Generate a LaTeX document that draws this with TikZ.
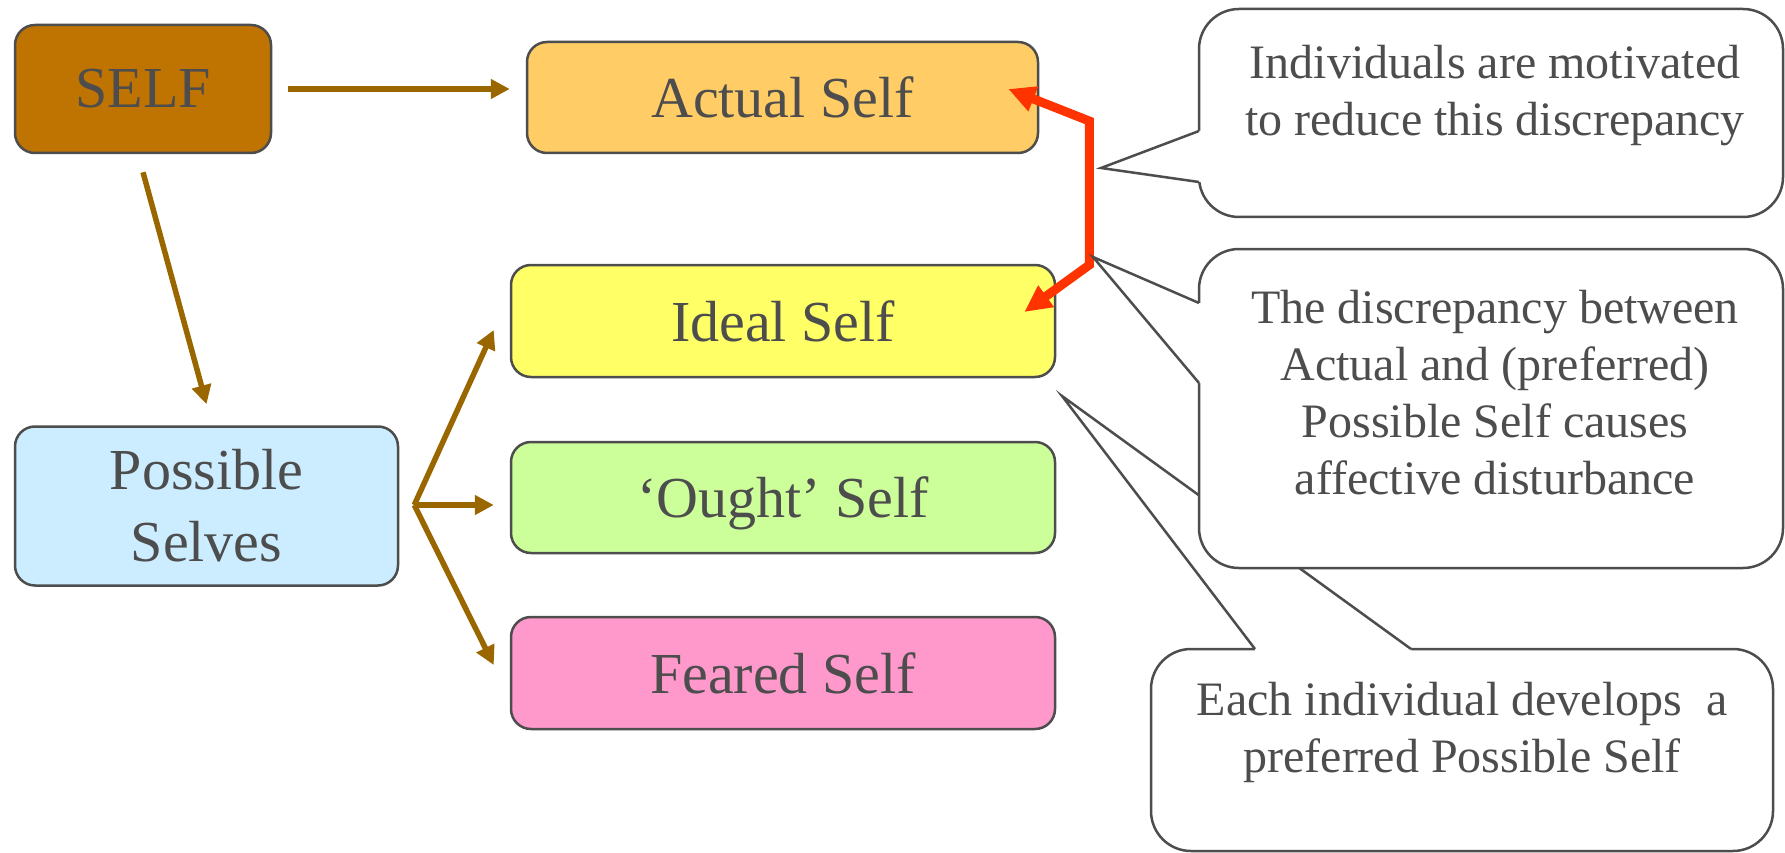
\documentclass[tikz,border=0pt]{standalone}
\usepackage{fontspec}
\setmainfont{Liberation Serif}
\usetikzlibrary{arrows.meta,calc}
\definecolor{linegray}{HTML}{4D4D4D}
\definecolor{selfbrown}{HTML}{BF7300}
\definecolor{actualfill}{HTML}{FFCC66}
\definecolor{idealfill}{HTML}{FFFF66}
\definecolor{oughtfill}{HTML}{CCFF99}
\definecolor{fearedfill}{HTML}{FF99CC}
\definecolor{possiblefill}{HTML}{CCECFF}
\definecolor{arrowbrown}{HTML}{996600}
\definecolor{arrowred}{HTML}{FF3300}
\begin{document}
\begin{tikzpicture}[x=1pt,y=-1pt,
  box/.style={draw=linegray, line width=2.5pt, rounded corners=20pt, inner sep=0pt,
    text=linegray, font=\fontsize{58}{72}\selectfont, align=center},
  brownarrow/.style={draw=arrowbrown, line width=5.5pt, -{Triangle[length=19pt,width=19pt]}},
  redarrow/.style={draw=arrowred, line width=9pt,
    {Triangle[length=27pt,width=25pt]}-{Triangle[length=27pt,width=25pt]}},
  calloutbox/.style={draw=linegray, fill=white, line width=2.5pt, rounded corners=40pt, inner sep=0pt},
  callouttext/.style={text=linegray, font=\fontsize{48}{57}\selectfont, align=center, inner sep=0pt},
  calloutline/.style={draw=linegray, line width=2.5pt}
]
\useasboundingbox (0,0) rectangle (1785,853);

% main boxes
\node[box, fill=selfbrown, minimum width=256pt, minimum height=128pt] (self) at (143,89) {SELF};
\node[box, fill=actualfill, minimum width=511pt, minimum height=111pt] (actual) at (782.5,97.5) {Actual Self};
\node[box, fill=idealfill, minimum width=544pt, minimum height=112pt] (ideal) at (783,321) {Ideal Self};
\node[box, fill=oughtfill, minimum width=544pt, minimum height=111pt, text depth=0pt] (ought) at (783,497.5) {‘Ought’ Self};
\node[box, fill=fearedfill, minimum width=544pt, minimum height=112pt] (feared) at (783,673) {Feared Self};
\node[box, fill=possiblefill, minimum width=383pt, minimum height=159pt] (possible) at (206.5,506) {Possible\\Selves};

% brown connectors
\coordinate (fork) at ($(possible.east)+(15,-1)$);
\draw[brownarrow, shorten <=16pt, shorten >=16pt] (self) -- (self -| actual.west);
\draw[brownarrow] ($(self.south)+(0,18)$) -- ($(possible.north)+(0,-21)$);
\draw[brownarrow] (fork) -- ($(ideal.west)+(-16,9)$);
\draw[brownarrow] (fork) -- ($(fork -| ought.west)+(-16,0)$);
\draw[brownarrow] (fork) -- ($(feared.west)+(-16,-8)$);

% discrepancy arrow between actual and ideal self
\coordinate (rtop) at ($(actual.east)+(50,23.5)$);
\coordinate (rbot) at ($(ideal.east)+(33,-56)$);
\draw[redarrow] ($(actual.east)+(-31,-8.5)$) -- (rtop) -- (rbot) -- ($(ideal.east)+(-32,-9)$);

% callout 3 (pointer runs behind callout 2)
\node[calloutbox, minimum width=622pt, minimum height=202pt] (c3) at (1462,750) {};
\fill[white] (1255,649) -- (1062,396) -- (1411,649) -- (1411,654) -- (1255,654) -- cycle;
\draw[calloutline] (1255,649) -- (1062,396) -- (1411,649);
\node[callouttext] (t3) at (1462,732) {Each individual develops~ a\\preferred Possible Self};

% callout 2
\node[calloutbox, minimum width=584pt, minimum height=319pt] (c2) at (1491,408.5) {};
\fill[white] (1199,303) -- (1093,257) -- (1199,383) -- (1204,383) -- (1204,303) -- cycle;
\draw[calloutline] (1199,303) -- (1093,257) -- (1199,383);
\node[callouttext] (t2) at (1495,393) {The discrepancy between\\Actual and (preferred)\\Possible Self causes\\affective disturbance};

% callout 1
\node[calloutbox, minimum width=584pt, minimum height=208pt] (c1) at (1491,113) {};
\fill[white] (1199,131) -- (1101,168) -- (1199,182) -- (1204,182) -- (1204,131) -- cycle;
\draw[calloutline] (1199,131) -- (1101,168) -- (1199,182);
\node[callouttext] (t1) at (1495,96) {Individuals are motivated\\to reduce this discrepancy};
\end{tikzpicture}
\end{document}
